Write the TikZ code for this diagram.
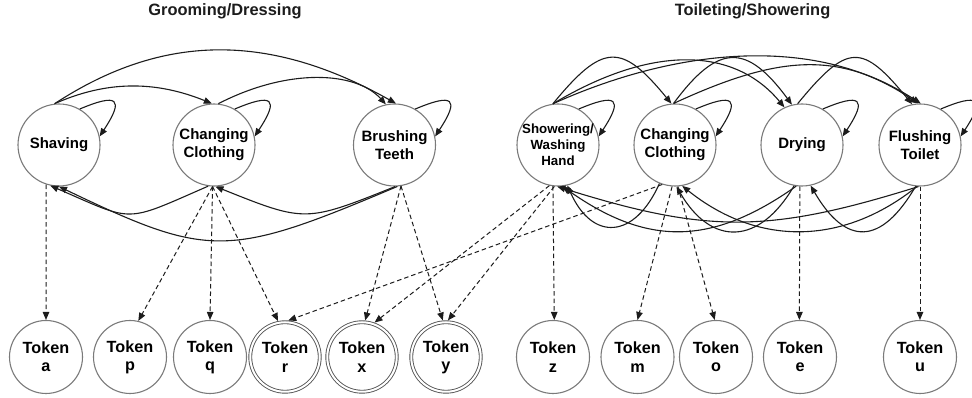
\documentclass[tikz,border=0pt]{standalone}
\usepackage{fontspec}
\setmainfont{Liberation Sans}
\usetikzlibrary{arrows.meta}
\definecolor{ringgray}{HTML}{7A7A7A}
\definecolor{inkdark}{HTML}{1C1C1C}
% self transition drawn on the upper right of a state
\newcommand\selfloop[1]{\draw[edge] (#1.60) .. controls +(38,16) and +(25,38) .. (#1.12);}
\begin{document}
\begin{tikzpicture}[x=1pt,y=1pt,
  state/.style={circle, draw=ringgray, line width=1.1pt, minimum size=82pt, inner sep=0pt,
    align=center, font=\bfseries\fontsize{15}{18}\selectfont},
  token/.style={circle, draw=ringgray, line width=1.1pt, minimum size=73pt, inner sep=0pt,
    align=center, font=\bfseries\fontsize{16.2}{18.3}\selectfont},
  final/.style={token, draw=inkdark!75, line width=0.9pt, double=white, double distance=2pt,
    minimum size=69.5pt, outer sep=1.9pt},
  edge/.style={draw=inkdark, line width=1.1pt, -{Triangle[length=8pt,width=6.5pt]}},
  emit/.style={draw=inkdark, line width=1pt, dash pattern=on 4.5pt off 3pt,
    -{Triangle[length=8pt,width=6.5pt]}},
  heading/.style={font=\bfseries\fontsize{16.4}{18}\selectfont, text=inkdark, anchor=base}
]
\useasboundingbox (0,0) rectangle (972,398);

% headings
\node[heading] (titleL) at (225,382) {Grooming/Dressing};
\node[heading] (titleR) at (752.5,382) {Toileting/Showering};

% activity states
\node[state] (sh)  at (59,253)    {Shaving};
\node[state] (cc1) at (214,253)   {Changing\\Clothing};
\node[state] (bt)  at (394.5,253) {Brushing\\Teeth};
\node[state, label={[align=center, font=\bfseries\fontsize{13.3}{16}\selectfont]center:{Showering/\\Washing\\Hand}}] (sw) at (558,253) {};
\node[state] (cc2) at (675,253)   {Changing\\Clothing};
\node[state] (dr)  at (802,253)   {Drying};
\node[state] (ft)  at (920,253)   {Flushing\\Toilet};

% observation tokens
\node[token] (tokA) at (46,41)    {Token\\a};
\node[token] (tokP) at (130,41)   {Token\\p};
\node[token] (tokQ) at (210,41)   {Token\\q};
\node[final] (tokR) at (285,41)   {Token\\r};
\node[final] (tokX) at (362,41)   {Token\\x};
\node[final] (tokY) at (446,41)   {Token\\y};
\node[token] (tokZ) at (553,41)   {Token\\z};
\node[token] (tokM) at (637.5,41) {Token\\m};
\node[token] (tokO) at (716,41)   {Token\\o};
\node[token] (tokE) at (800,41)   {Token\\e};
\node[token] (tokU) at (920,41)   {Token\\u};

% self transitions
\selfloop{sh}\selfloop{cc1}\selfloop{bt}
\selfloop{sw}\selfloop{cc2}\selfloop{dr}\selfloop{ft}

% grooming/dressing: forward transitions
\draw[edge] (sh.96)  .. controls +(110,72) and +(-125,70) .. (bt.88);
\draw[edge] (sh.96)  .. controls +(52,23)  and +(-57,23)  .. (cc1.93);
\draw[edge] (cc1.84) .. controls +(70,36)  and +(-30,33)  .. (bt.102);
% grooming/dressing: backward transitions
\draw[edge] (cc1.262) .. controls +(-85,-37)  and +(85,-37)  .. (sh.258);
\draw[edge] (bt.274)  .. controls +(-170,-72) and +(150,-72) .. (sh.270);
\draw[edge] (bt.271)  .. controls +(-90,-36)  and +(90,-36)  .. (cc1.272);

% toileting/showering: forward transitions
\draw[edge] (sw.97)  .. controls +(50,61)  and +(-50,61) .. (cc2.95);
\draw[edge] (sw.97)  .. controls +(100,60) and +(-50,60) .. (dr.115);
\draw[edge] (sw.97)  .. controls +(140,63) and +(-90,63) .. (ft.93);
\draw[edge] (cc2.92) .. controls +(45,61)  and +(-45,61) .. (dr.104);
\draw[edge] (cc2.92) .. controls +(110,51) and +(-80,51) .. (ft.89);
\draw[edge] (dr.96)  .. controls +(50,61)  and +(-50,61) .. (ft.101);
% toileting/showering: backward transitions
\draw[edge] (cc2.248) .. controls +(-25,-56)  and +(25,-56)  .. (sw.283);
\draw[edge] (dr.262)  .. controls +(-85,-60)  and +(85,-60)  .. (sw.276);
\draw[edge] (ft.268)  .. controls +(-150,-47) and +(150,-47) .. (sw.269);
\draw[edge] (dr.259)  .. controls +(-35,-60)  and +(35,-60)  .. (cc2.272);
\draw[edge] (ft.266)  .. controls +(-75,-60)  and +(75,-60)  .. (cc2.280);
\draw[edge] (ft.264)  .. controls +(-35,-60)  and +(35,-60)  .. (dr.282);

% emissions
\draw[emit] (sh.252)  -- (tokA.north);
\draw[emit] (cc1.268) -- (tokP.77);
\draw[emit] (cc1.268) -- (tokQ.north);
\draw[emit] (cc1.268) -- (tokR.101);
\draw[emit] (bt.279)  -- (tokX.85);
\draw[emit] (bt.279)  -- (tokY.95);
\draw[emit] (sw.258)  -- (tokX.70);
\draw[emit] (sw.265)  -- (tokY.87);
\draw[emit] (sw.263)  -- (tokZ.88);
\draw[emit] (cc2.252) -- (tokR.85);
\draw[emit] (cc2.266) -- (tokM.north);
\draw[emit] (cc2.274) -- (tokO.92);
\draw[emit] (dr.267)  -- (tokE.91);
\draw[emit] (ft.270)  -- (tokU.north);
\end{tikzpicture}
\end{document}
